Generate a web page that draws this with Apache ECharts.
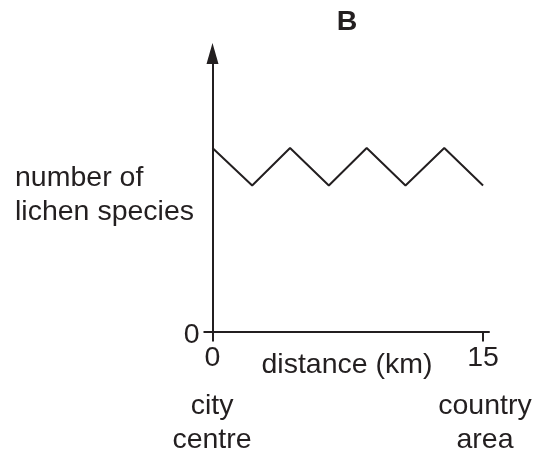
<!DOCTYPE html>
<html>
<head>
<meta charset="utf-8">
<script src="https://cdn.jsdelivr.net/npm/echarts@6/dist/echarts.min.js"></script>
<style>
html,body{margin:0;padding:0;background:#fff;}
#chart{width:539px;height:455px;}
</style>
</head>
<body>
<div id="chart"></div>
<script>
// Data
const distanceKm = [0, 2.2, 4.3, 6.45, 8.55, 10.7, 12.85, 15];
const lichenSpecies = [6.6, 5.25, 6.6, 5.25, 6.6, 5.25, 6.6, 5.25];
const xTickValues = [0, 15];
const yTickValues = [0];
const titleText = 'B';
const yNameLines = ['number of', 'lichen species'];
const xName = 'distance (km)';
const leftEndLines = ['city', 'centre'];
const rightEndLines = ['country', 'area'];

const ink = '#231f20';
const font = '"Liberation Sans", Arial, Helvetica, sans-serif';
const fs = 28.5;

const chart = echarts.init(document.getElementById('chart'), null, {renderer: 'canvas'});

function txt(text, x, y, align, bold) {
  return {
    type: 'text', x: x, y: y, silent: true,
    style: {text: text, fill: ink, font: (bold ? 'bold ' : '') + fs + 'px ' + font,
            align: align, verticalAlign: 'middle'}
  };
}

const option = {
  backgroundColor: '#fff',
  animation: false,
  grid: {left: 212.5, right: 50, top: 53.5, bottom: 123.5, containLabel: false},
  xAxis: {
    type: 'value', min: 0, max: 15.33,
    splitLine: {show: false},
    axisLine: {show: true, lineStyle: {color: ink, width: 2}},
    axisTick: {show: true, length: 10, customValues: xTickValues, lineStyle: {color: ink, width: 2}},
    axisLabel: {show: true, customValues: xTickValues, margin: 12, color: ink, fontSize: fs, fontFamily: font}
  },
  yAxis: {
    type: 'value', min: 0, max: 10,
    splitLine: {show: false},
    axisLine: {show: true, onZero: false, symbol: ['none', 'triangle'], symbolSize: [12, 21],
               lineStyle: {color: ink, width: 2}},
    axisTick: {show: true, length: 9, customValues: yTickValues, lineStyle: {color: ink, width: 2}},
    axisLabel: {show: true, customValues: yTickValues, margin: 13,
                formatter: '{v|{value}}',
                rich: {v: {padding: [7, 0, 0, 0], color: ink, fontSize: fs, fontFamily: font}},
                color: ink, fontSize: fs, fontFamily: font}
  },
  series: [{
    type: 'line',
    data: distanceKm.map((d, i) => [d, lichenSpecies[i]]),
    symbol: 'none',
    lineStyle: {color: ink, width: 2},
    z: 3
  }],
  graphic: [
    txt(titleText, 347, 22, 'center', true),
    txt(yNameLines[0], 15, 178, 'left'),
    txt(yNameLines[1], 15, 212, 'left'),
    txt(xName, 347, 365, 'center'),
    txt(leftEndLines[0], 212, 406, 'center'),
    txt(leftEndLines[1], 212, 440, 'center'),
    txt(rightEndLines[0], 485, 406, 'center'),
    txt(rightEndLines[1], 485, 440, 'center')
  ]
};
chart.setOption(option);
</script>
</body>
</html>
